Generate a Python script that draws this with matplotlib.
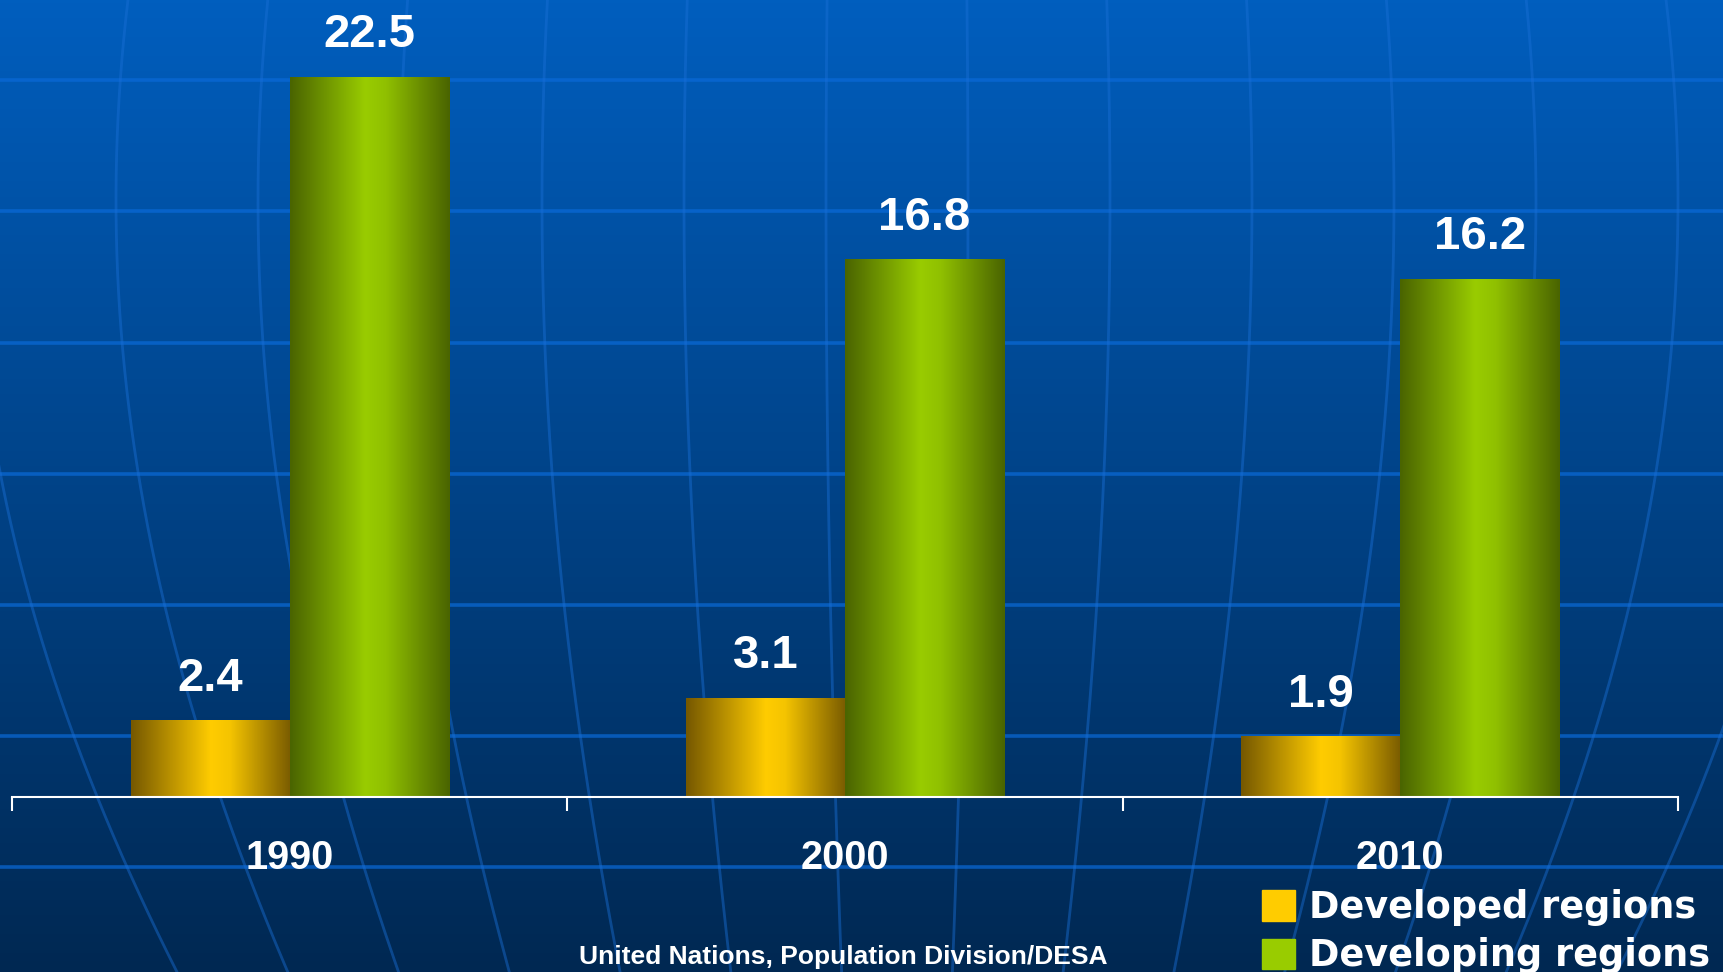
import numpy as np
import matplotlib
matplotlib.use("Agg")
import matplotlib.pyplot as plt
from matplotlib.colors import LinearSegmentedColormap
from matplotlib.patches import Patch

# data
years = ["1990", "2000", "2010"]
developed = [2.4, 3.1, 1.9]
developing = [22.5, 16.8, 16.2]
series_names = ["Developed regions", "Developing regions"]
source = "United Nations, Population Division/DESA"

W, H = 1723, 972
fig = plt.figure(figsize=(W / 100, H / 100), dpi=100)

# background: blue gradient + globe-ish lines (pixel coords)
bg = fig.add_axes([0, 0, 1, 1], zorder=0)
top = np.array([0, 94, 190]) / 255
bot = np.array([0, 40, 82]) / 255
t = np.linspace(0, 1, 256)[:, None, None]
grad = top * (1 - t) + bot * t
grad = np.repeat(grad, 2, axis=1)
bg.imshow(grad, extent=[0, W, H, 0], aspect="auto")
for y in [80, 211, 343, 474, 605, 736, 867]:
    bg.plot([0, W], [y, y], color="#0a6ad8", lw=2.6, alpha=0.7)

# meridians bend in towards a pole below the picture
cx, step = 897, 142
yy = np.linspace(0, H, 300)
shrink = np.cos((yy - 200) / 1142)
for k in range(-7, 7):
    off = (k + 0.5) * step
    bg.plot(cx + off * shrink, yy, color="#1a6fd6", lw=2.0, alpha=0.45)
bg.set_xlim(0, W)
bg.set_ylim(H, 0)
bg.axis("off")

# main chart
ax = fig.add_axes([12 / W, (H - 797) / H, 1666 / W, 797 / H], zorder=2)
ax.set_facecolor("none")
x = np.arange(len(years)) + 0.5
w = 0.2865

gold = LinearSegmentedColormap.from_list(
    "gold", [(0, "#765800"), (0.5, "#ffcc00"), (0.62, "#f5c400"), (1, "#7a5c00")])
green = LinearSegmentedColormap.from_list(
    "green", [(0, "#4a6400"), (0.47, "#99cc00"), (0.6, "#90c000"), (1, "#4a6400")])

b1 = ax.bar(x - w / 2, developed, w, color="#ffcc00", edgecolor="none")
b2 = ax.bar(x + w / 2, developing, w, color="#99cc00", edgecolor="none")

gx = np.linspace(0, 1, 200)[None, :]
for bars, cmap in [(b1, gold), (b2, green)]:
    for p in bars:
        x0, y0 = p.get_x(), p.get_y()
        im = ax.imshow(gx, cmap=cmap, aspect="auto", zorder=2,
                       extent=[x0, x0 + p.get_width(), y0, y0 + p.get_height()])
        im.set_clip_path(p)
        p.set_alpha(0)

for bars in (b1, b2):
    for p in bars:
        v = p.get_height()
        ax.annotate(f"{v}", (p.get_x() + p.get_width() / 2, v), xytext=(0, 30),
                    textcoords="offset points", ha="center", va="center",
                    color="white", fontsize=34, fontweight="bold",
                    family="Liberation Sans")

ax.set_xlim(0, 3)
ax.set_ylim(0, 797 / 32)
for s in ["top", "left", "right"]:
    ax.spines[s].set_visible(False)
ax.spines["bottom"].set_color("white")
ax.spines["bottom"].set_linewidth(1.5)
ax.set_yticks([])
ax.set_xticks([0, 1, 2, 3])
ax.set_xticklabels([])
ax.tick_params(axis="x", which="major", direction="out", length=10, width=1.5, color="white")
ax.set_xticks(x, minor=True)
ax.set_xticklabels(years, minor=True, color="white", fontsize=28.5,
                   fontweight="bold", family="Liberation Sans")
ax.tick_params(axis="x", which="minor", length=0, pad=30)

handles = [Patch(color="#ffcc00"), Patch(color="#99cc00")]
fig.legend(handles, series_names, loc="upper left",
           bbox_to_anchor=(1262 / W, 1 - 889 / H), frameon=False,
           prop={"family": "DejaVu Sans", "weight": "bold", "size": 26.4},
           labelcolor="white", handlelength=0.9, handleheight=0.9,
           handletextpad=0.39, labelspacing=0.31, borderpad=0, borderaxespad=0)

fig.text(843 / W, 1 - 957 / H, source, ha="center", va="center", color="white",
         fontsize=19, fontweight="bold", family="Liberation Sans")

fig.savefig("out.png", dpi=100)
